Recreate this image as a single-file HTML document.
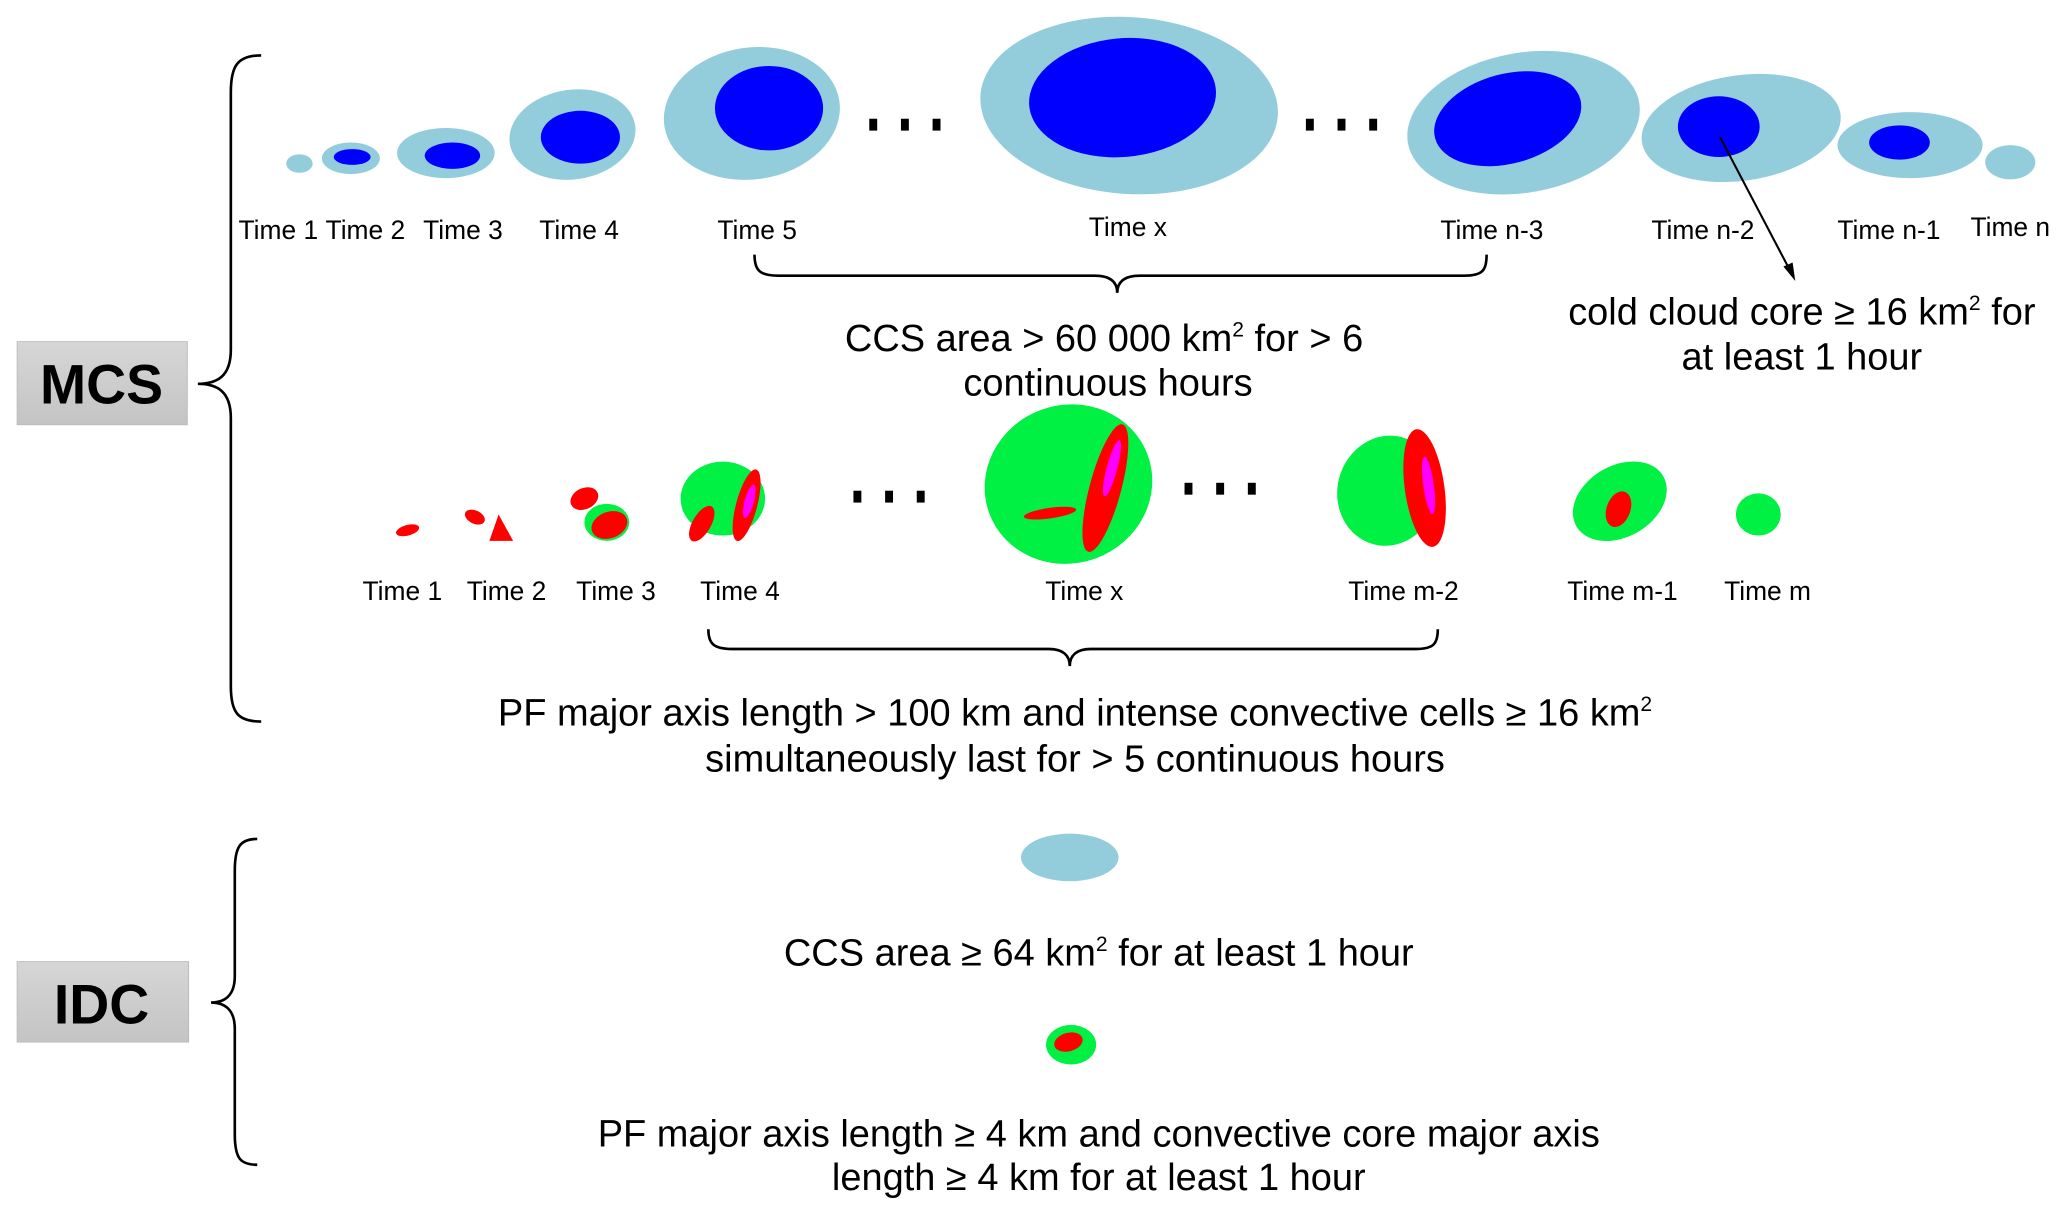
<!DOCTYPE html>
<html><head><meta charset="utf-8"><style>
html,body{margin:0;padding:0;background:#fff}
svg{display:block}
text{font-family:"Liberation Sans",Arial,sans-serif;fill:#000}
</style></head><body>
<svg width="2067" height="1217" viewBox="0 0 1567 922.6" xmlns="http://www.w3.org/2000/svg">
<defs>
<linearGradient id="gb" x1="0" y1="0" x2="0" y2="1"><stop offset="0" stop-color="#d6d6d6"/><stop offset="1" stop-color="#c4c4c4"/></linearGradient>
</defs>
<g>
<rect x="13" y="259" width="129" height="63" fill="url(#gb)" stroke="#bbb" stroke-width="0.7"/>
<text x="77" y="306" font-size="42" font-weight="bold" text-anchor="middle">MCS</text></g>
<path d="M198,42 C180,42 175,50 175,70 L175,265 C175,285 165,291 150,291 C165,291 175,297 175,317 L175,520 C175,540 180,547 198,547" fill="none" stroke="#000" stroke-width="2"/>
<g>
<rect x="13" y="729" width="130" height="61" fill="url(#gb)" stroke="#bbb" stroke-width="0.7"/>
<text x="77" y="776" font-size="42" font-weight="bold" text-anchor="middle">IDC</text></g>
<path d="M195,636 C182,636 178,642 178,660 L178,740 C178,755 170,760 160,760 C170,760 178,765 178,780 L178,860 C178,878 182,883 195,883" fill="none" stroke="#000" stroke-width="2"/>

<g fill="#93cddc">
<ellipse cx="227" cy="124" rx="10" ry="7"/>
<ellipse cx="266" cy="120" rx="22" ry="12"/>
<ellipse cx="338" cy="116" rx="37" ry="19"/>
<ellipse cx="434" cy="102" rx="48" ry="34" transform="rotate(-8 434 102)"/>
<ellipse cx="570" cy="86" rx="67" ry="50" transform="rotate(-8 570 86)"/>
<ellipse cx="856" cy="80" rx="113" ry="67" transform="rotate(4 856 80)"/>
<ellipse cx="1155" cy="93" rx="89" ry="53" transform="rotate(-10 1155 93)"/>
<ellipse cx="1320" cy="97" rx="76" ry="40" transform="rotate(-8 1320 97)"/>
<ellipse cx="1448" cy="110" rx="55" ry="25"/>
<ellipse cx="1524" cy="123" rx="19" ry="13"/>
</g>
<g fill="#0000ff">
<ellipse cx="267" cy="119" rx="14" ry="6"/>
<ellipse cx="343" cy="118" rx="21" ry="10"/>
<ellipse cx="440" cy="104" rx="30" ry="20"/>
<ellipse cx="583" cy="82" rx="41" ry="32"/>
<ellipse cx="851" cy="74" rx="71" ry="45" transform="rotate(-5 851 74)"/>
<ellipse cx="1143" cy="90" rx="57" ry="34" transform="rotate(-15 1143 90)"/>
<ellipse cx="1303" cy="96" rx="31" ry="23"/>
<ellipse cx="1440" cy="108" rx="23" ry="13"/>
</g>
<g fill="#000">
<rect x="659" y="90" width="6" height="9"/><rect x="683" y="90" width="6" height="9"/><rect x="707" y="90" width="6" height="9"/>
<rect x="990" y="90" width="6" height="9"/><rect x="1014" y="90" width="6" height="9"/><rect x="1038" y="90" width="6" height="9"/>
<rect x="647" y="372" width="6" height="9"/><rect x="671" y="372" width="6" height="9"/><rect x="695" y="372" width="6" height="9"/>
<rect x="898" y="366" width="6" height="9"/><rect x="922" y="366" width="6" height="9"/><rect x="946" y="366" width="6" height="9"/>
</g>
<g font-size="20" text-anchor="middle">
<text x="211" y="181">Time 1</text><text x="277" y="181">Time 2</text><text x="351" y="181">Time 3</text><text x="439" y="181">Time 4</text><text x="574" y="181">Time 5</text><text x="855" y="179">Time x</text><text x="1131" y="181">Time n-3</text><text x="1291" y="181">Time n-2</text><text x="1432" y="181">Time n-1</text><text x="1524" y="179">Time n</text>
</g>
<path d="M572,193 C572,205 576,209 590,209 L830,209 C842,209 847,214 847,222 C847,214 852,209 864,209 L1110,209 C1124,209 1127,205 1127,193" fill="none" stroke="#000" stroke-width="2"/>
<g font-size="28.8" text-anchor="middle">
<text x="837" y="266">CCS area &gt; 60 000 km<tspan font-size="16" dy="-11">2</tspan><tspan dy="11"> for &gt; 6</tspan></text>
<text x="840" y="300">continuous hours</text></g>
<line x1="1304" y1="104" x2="1357" y2="205" stroke="#000" stroke-width="1.6"/>
<polygon points="1361,213 1352,202 1359,199" fill="#000"/>
<g font-size="28.8" text-anchor="middle">
<text x="1366" y="246">cold cloud core ≥ 16 km<tspan font-size="16" dy="-11">2</tspan><tspan dy="11"> for</tspan></text>
<text x="1366" y="280">at least 1 hour</text></g>

<g>
<ellipse cx="309" cy="402" rx="9" ry="4" fill="#ff0000" transform="rotate(-15 309 402)"/>
<ellipse cx="360" cy="392" rx="8" ry="5" fill="#ff0000" transform="rotate(25 360 392)"/>
<path d="M378,390 L389,410 L371,410 Z" fill="#ff0000"/>
<ellipse cx="443" cy="378" rx="11" ry="8" fill="#ff0000" transform="rotate(-25 443 378)"/>
<ellipse cx="460" cy="396" rx="17" ry="14" fill="#00f044"/>
<ellipse cx="462" cy="398" rx="14" ry="10" fill="#ff0000" transform="rotate(-20 462 398)"/>
<ellipse cx="548" cy="378" rx="32" ry="28" fill="#00f044"/>
<ellipse cx="566" cy="383" rx="8" ry="28" fill="#ff0000" transform="rotate(15 566 383)"/>
<ellipse cx="568" cy="380" rx="3.5" ry="13" fill="#ff00ff" transform="rotate(15 568 380)"/>
<ellipse cx="532" cy="397" rx="7" ry="15" fill="#ff0000" transform="rotate(30 532 397)"/>
<ellipse cx="810" cy="367" rx="64" ry="60" fill="#00f044" transform="rotate(-20 810 367)"/>
<ellipse cx="838" cy="370" rx="12" ry="50" fill="#ff0000" transform="rotate(15 838 370)"/>
<ellipse cx="843" cy="355" rx="4" ry="22" fill="#ff00ff" transform="rotate(15 843 355)"/>
<ellipse cx="796" cy="389" rx="20" ry="4" fill="#ff0000" transform="rotate(-8 796 389)"/>
<ellipse cx="1052" cy="372" rx="38" ry="42" fill="#00f044" transform="rotate(15 1052 372)"/>
<ellipse cx="1080" cy="370" rx="15" ry="45" fill="#ff0000" transform="rotate(-8 1080 370)"/>
<ellipse cx="1083" cy="368" rx="4" ry="22" fill="#ff00ff" transform="rotate(-8 1083 368)"/>
<ellipse cx="1228" cy="380" rx="38" ry="27" fill="#00f044" transform="rotate(-30 1228 380)"/>
<ellipse cx="1227" cy="386" rx="9" ry="14" fill="#ff0000" transform="rotate(20 1227 386)"/>
<ellipse cx="1333" cy="390" rx="17" ry="16" fill="#00f044"/>
</g>
<g font-size="20" text-anchor="middle">
<text x="305" y="455">Time 1</text><text x="384" y="455">Time 2</text><text x="467" y="455">Time 3</text><text x="561" y="455">Time 4</text><text x="822" y="455">Time x</text><text x="1064" y="455">Time m-2</text><text x="1230" y="455">Time m-1</text><text x="1340" y="455">Time m</text>
</g>
<path d="M537,477 C537,488 541,492 555,492 L795,492 C806,492 811,497 811,505 C811,497 816,492 827,492 L1073,492 C1087,492 1090,488 1090,477" fill="none" stroke="#000" stroke-width="2"/>
<g font-size="28.8" text-anchor="middle">
<text x="815" y="550">PF major axis length &gt; 100 km and intense convective cells ≥ 16 km<tspan font-size="16" dy="-11">2</tspan></text>
<text x="815" y="585">simultaneously last for &gt; 5 continuous hours</text></g>

<ellipse cx="811" cy="650" rx="37" ry="18" fill="#93cddc"/>
<text x="833" y="732" font-size="28.8" text-anchor="middle">CCS area ≥ 64 km<tspan font-size="16" dy="-11">2</tspan><tspan dy="11"> for at least 1 hour</tspan></text>
<g>
<ellipse cx="812" cy="792" rx="19" ry="15" fill="#00f044"/>
<ellipse cx="810" cy="790" rx="11" ry="7" fill="#ff0000" transform="rotate(-15 810 790)"/></g>
<g font-size="28.8" text-anchor="middle">
<text x="833" y="869">PF major axis length  ≥ 4 km and convective core major axis</text>
<text x="833" y="902">length ≥ 4 km for at least 1 hour</text></g>
</svg>
</body></html>
